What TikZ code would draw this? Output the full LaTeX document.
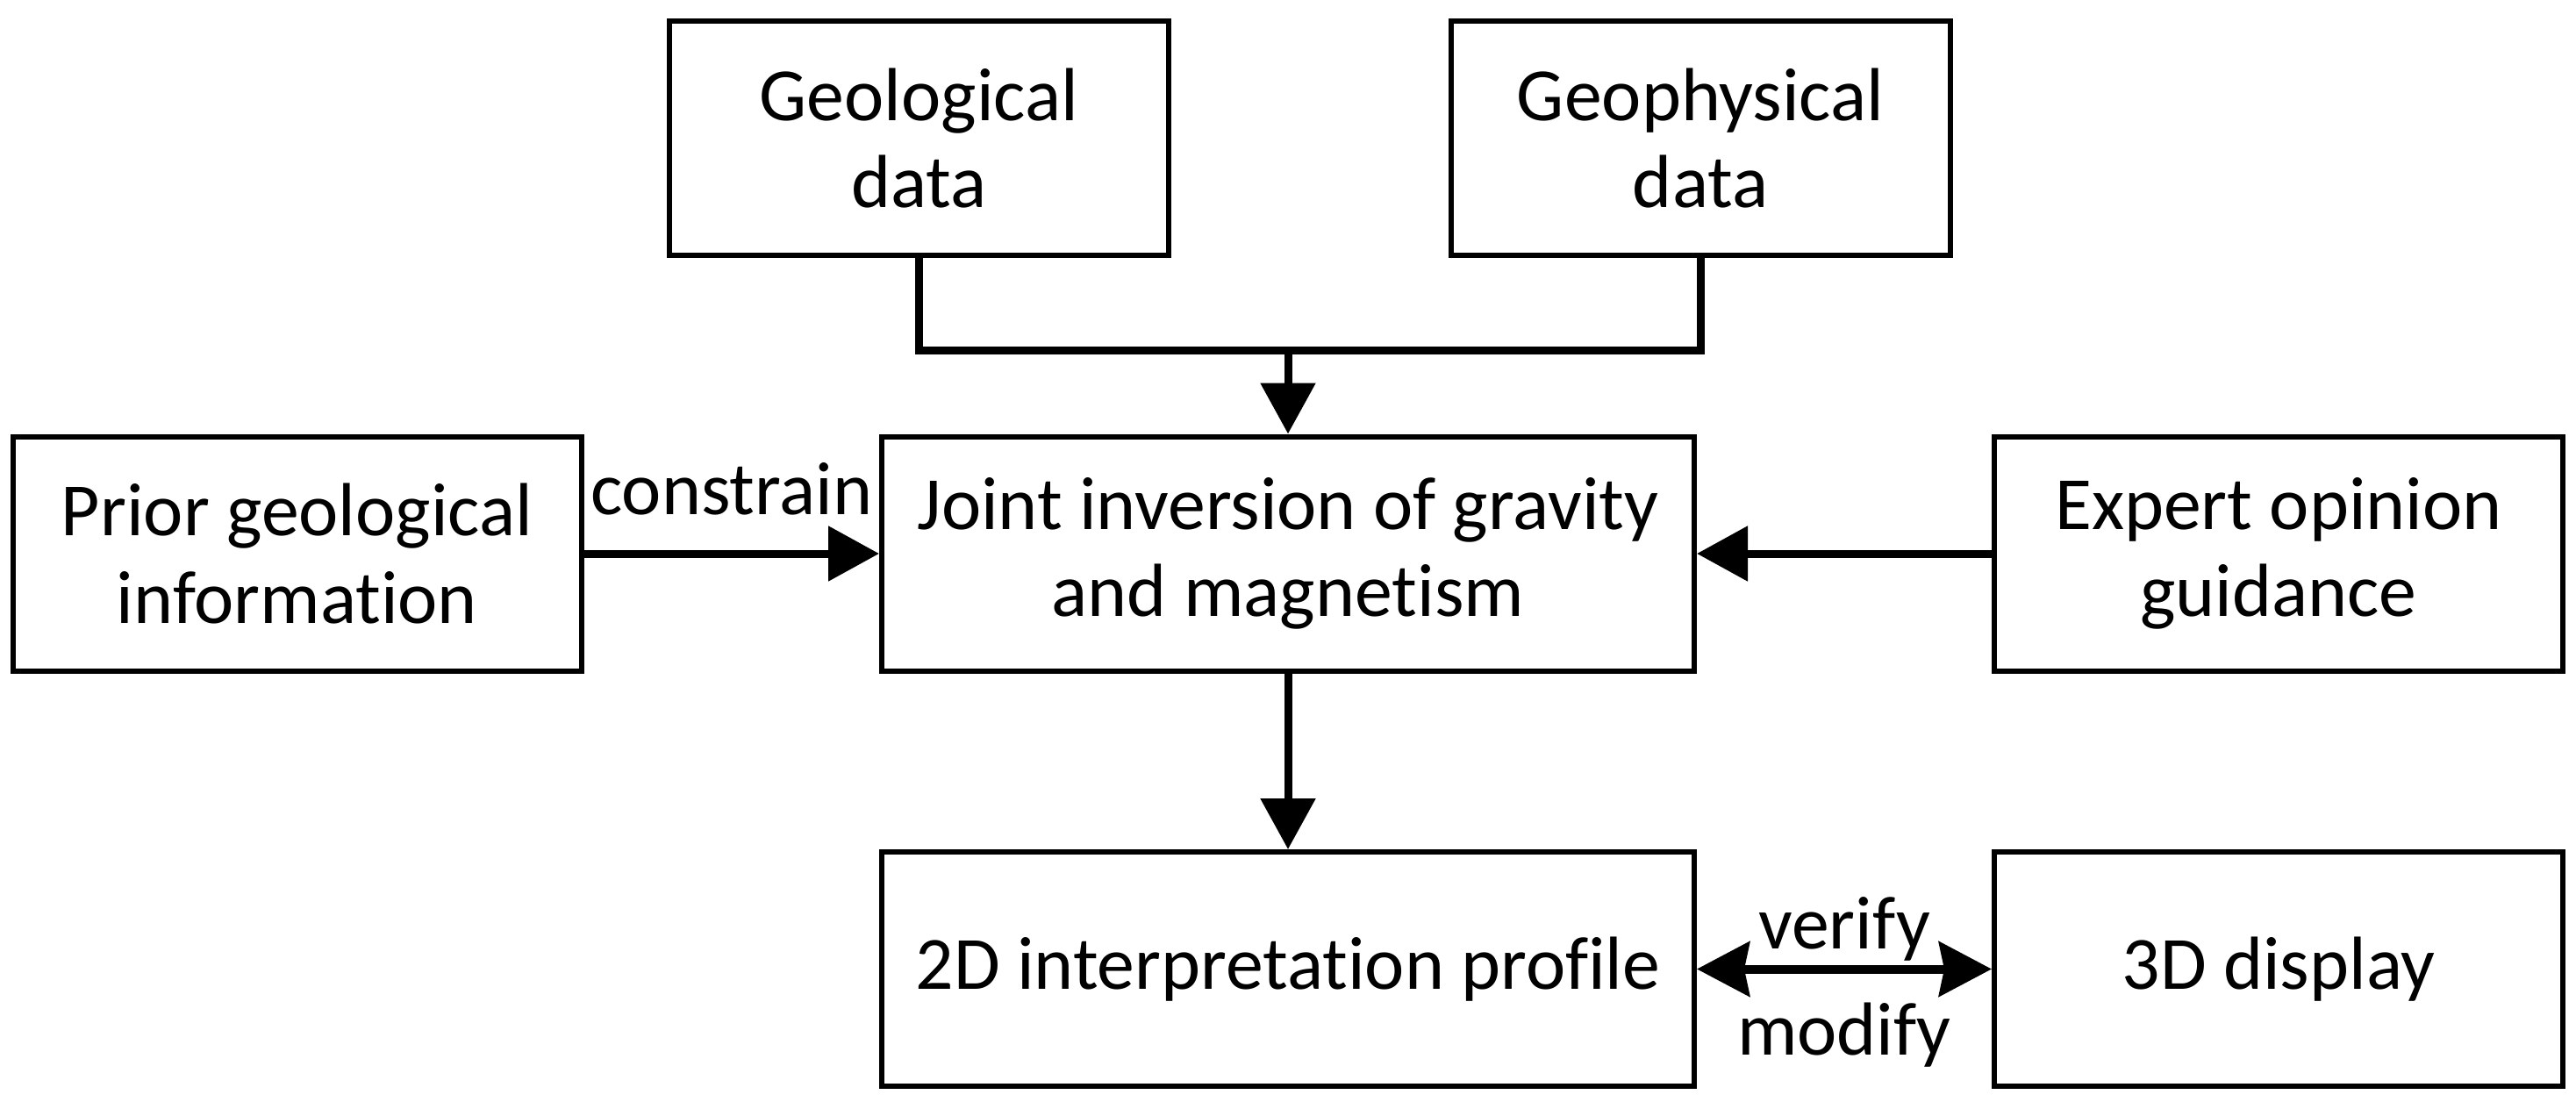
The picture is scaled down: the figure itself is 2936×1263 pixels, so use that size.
\documentclass[tikz,border=0pt]{standalone}
\usepackage{fontspec}
\setmainfont{Carlito}[Ligatures=NoCommon]
\usetikzlibrary{arrows.meta}
\begin{document}
\begin{tikzpicture}[x=0.1mm,y=-0.1mm,
  txt/.style={font=\fontsize{24.4}{28.2}\selectfont},
  box/.style={draw, line width=0.6mm, align=center, inner sep=0pt, txt},
  topbox/.style={box, minimum width=56.9mm, minimum height=26.7mm},
  midbox/.style={box, minimum width=92.6mm, minimum height=26.7mm},
  sidebox/.style={box, minimum width=64.8mm, minimum height=26.7mm},
  conn/.style={line width=0.9mm},
  arr/.style={conn, -{Triangle[length=5.8mm,width=6.1mm]}},
  dbl/.style={line width=1mm, {Stealth[length=6mm,width=6.2mm,inset=0.6mm]}-{Stealth[length=6mm,width=6.2mm,inset=0.6mm]}},
  lbl/.style={txt, inner sep=0pt}]
\useasboundingbox (0,0) rectangle (2936,1263);
\node[topbox] (geo) at (1047.5,157.5) {Geological\\data};
\node[topbox] (geoph) at (1938,157.5) {Geophysical\\data};
\node[sidebox] (prior) at (338.5,631) {Prior geological\\information};
\node[midbox] (joint) at (1468,631) {Joint inversion of gravity\\and magnetism};
\node[sidebox] (expert) at (2597,631) {Expert opinion\\guidance};
\node[midbox] (d2) at (1468,1104.5) {2D interpretation profile};
\node[sidebox] (d3) at (2597,1104.5) {3D display};
\coordinate (j) at (1468,399.5);
\draw[conn] (geo.south) -- (geo.south |- j) -- (geoph.south |- j) -- (geoph.south);
\draw[arr] (j) -- (joint.north);
\draw[arr] (prior.east) -- (joint.west)
  node[midway, lbl, anchor=base, yshift=4.5mm] (cons) {constrain};
\draw[arr] (expert.west) -- (joint.east);
\draw[arr] (joint.south) -- (d2.north);
\draw[dbl] (d2.east) -- (d3.west)
  node[midway, lbl, anchor=base, yshift=2.3mm] (ver) {verify}
  node[midway, lbl, anchor=base, yshift=-9.8mm] (mod) {modify};
\end{tikzpicture}
\end{document}
